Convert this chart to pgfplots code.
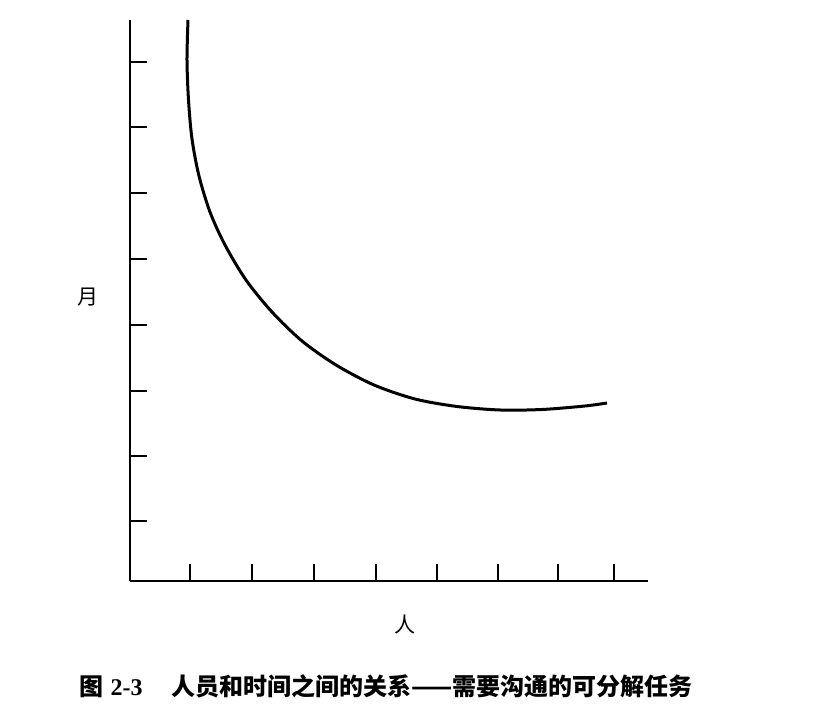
\documentclass[border=0pt]{standalone}
\usepackage{fontspec}
\setmainfont{Liberation Serif}
\newfontfamily\cjk{Noto Sans CJK SC}
\usepackage{pgfplots}
\pgfplotsset{compat=1.18}
\begin{document}
\begin{tikzpicture}[x=1pt,y=1pt]
\useasboundingbox (-65,-68) rectangle (342.5,290.5);
\begin{axis}[
  at={(0,0)}, anchor=origin,
  scale only axis, width=259pt, height=280.5pt,
  xmin=0, xmax=518, ymin=0, ymax=561,
  axis x line*=bottom, axis y line*=left,
  axis line style={-, line width=1pt, black},
  xtick={60,122,184,246,307,368,428,484},
  ytick={60,125,190,256,322,388,454,519},
  xticklabels={}, yticklabels={},
  tick align=inside, major tick length=8.5pt,
  tick style={line width=0.9pt, black},
  clip=false,
]
\addplot[black, line width=1.5pt, smooth, tension=0.5] coordinates {
(58,561) (57,521) (58.5,481) (62,442) (69,405) (80,369) (95,336) (116,301) (142,269) (172,240) (206,216) (244,196) (285,182) (327,174.5) (370,171) (412,171.5) (455,175) (477,178)
};
\end{axis}
\node at (-21,142) {\fontsize{10.5}{12}\selectfont\cjk 月};
\node at (137.5,-22) {\fontsize{10.5}{12}\selectfont\cjk 人};
\node at (128,-52.5) {\fontsize{12}{14}\selectfont\cjk\bfseries 图\hspace{0.3em}{\rmfamily\bfseries 2-3}\hspace{1.2em}人员和时间之间的关系——需要沟通的可分解任务};
\end{tikzpicture}
\end{document}
